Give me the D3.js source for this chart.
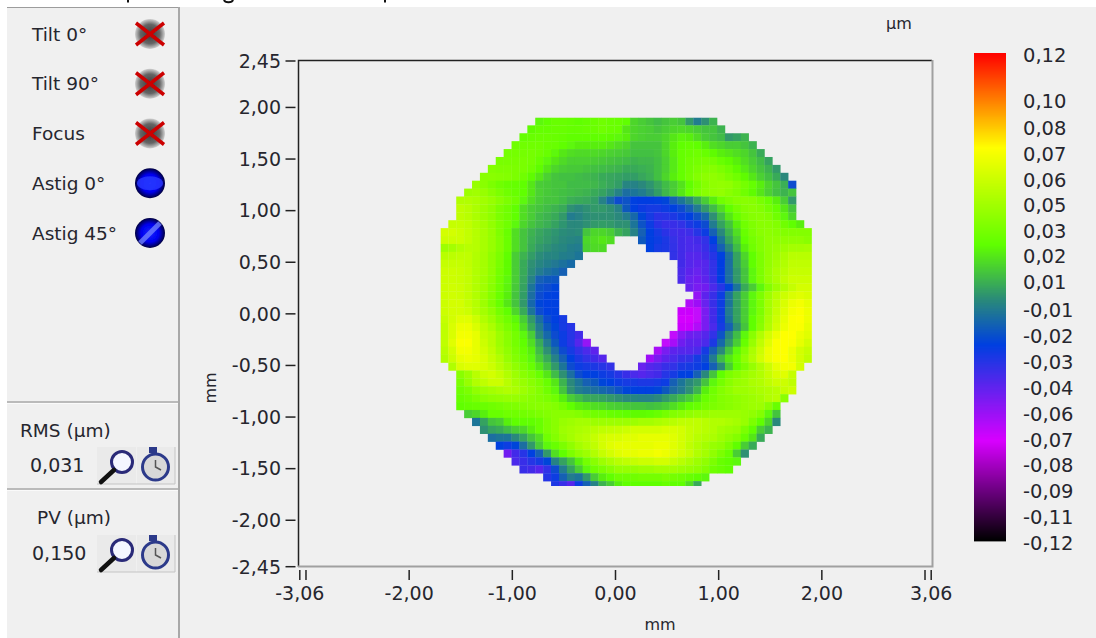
<!DOCTYPE html>
<html>
<head>
<meta charset="utf-8">
<script src="https://cdn.jsdelivr.net/npm/d3@7"></script>
<style>
  html, body { margin: 0; padding: 0; background: #fff; }
  text { font-family: "DejaVu Sans", sans-serif; font-size: 19px; fill: #26262e; }
</style>
</head>
<body>
<svg id="chart" width="1096" height="638"></svg>
<script>
const _ = null;

const xTicks = [-3.06, -3, -2, -1, 0, 1, 2, 3, 3.06];
const xTickLabels = ["-3,06", "", "-2,00", "-1,00", "0,00", "1,00", "2,00", "", "3,06"];
const yTicks = [2.45, 2, 1.5, 1, 0.5, 0, -0.5, -1, -1.5, -2, -2.45];
const yTickLabels = ["2,45", "2,00", "1,50", "1,00", "0,50", "0,00", "-0,50", "-1,00", "-1,50", "-2,00", "-2,45"];

// colour bar ticks sit at even steps, labels are rounded
const colorTickValues = [0.12, 0.0969, 0.0841, 0.0713, 0.0585, 0.0462, 0.0334, 0.0211, 0.0079, -0.0054, -0.0182, -0.031, -0.0438, -0.0566, -0.0694, -0.0817, -0.0945, -0.1073, -0.12];
const colorTickLabels = ["0,12", "0,10", "0,08", "0,07", "0,06", "0,05", "0,03", "0,02", "0,01", "-0,01", "-0,02", "-0,03", "-0,04", "-0,06", "-0,07", "-0,08", "-0,09", "-0,11", "-0,12"];
const colorStops = [-0.12, -0.0708, -0.0236, -0.0015, 0.0256, 0.0733, 0.12];
const colorValues = ["#000000", "#d800ff", "#0040e0", "#2a8a7a", "#60ff00", "#ffff00", "#ff0000"];

const termLabels = ["Tilt 0°", "Tilt 90°", "Focus", "Astig 0°", "Astig 45°"];
const termRemoved = [true, true, true, false, false];

const rmsValue = "0,031";
const pvValue = "0,150";

// map size in mm, one cell per sample
const gridStep = 0.0766;
const gridLeft = -1.697;
const gridTop = 1.903;
const gridBottom = -1.668;

// first column of each row
const rowStart = [12,11,10,9,8,7,6,5,4,3,2,2,2,1,0,0,0,0,0,0,0,0,0,0,0,0,0,0,0,0,0,1,2,2,2,2,2,3,4,5,6,7,8,9,10,13,14];

// height in nm
const zRows = [
[24,26,28,28,27,26,27,29,30,29,28,26,16,14,12,10,12,14,12,2,-6,0,8],
[25,27,27,28,28,27,27,28,29,30,29,28,20,16,15,14,12,14,16,17,16,14,12,12,8],
[27,28,29,29,28,27,26,26,26,26,26,25,24,22,16,15,14,14,16,20,23,22,18,14,12,10,2,4,8],
[30,30,30,30,29,28,26,24,22,22,22,22,20,18,16,12,12,12,12,16,22,26,27,26,22,18,16,14,14,12,8],
[32,32,32,32,30,28,24,20,18,17,17,17,16,15,14,13,11,11,11,12,16,22,27,29,30,28,25,22,20,18,16,12,6],
[33,33,33,33,32,28,24,20,17,15,15,15,14,13,12,11,10,8,9,9,11,15,21,27,30,32,33,32,28,25,22,18,14,10,4],
[36,35,35,34,33,30,25,20,16,14,13,13,12,11,10,9,8,6,6,7,8,11,15,21,27,31,34,36,37,34,30,25,21,16,12,8,2],
[38,38,37,36,34,30,25,20,15,12,11,11,10,9,8,6,5,4,3,3,5,7,11,16,22,27,32,36,39,40,38,34,30,25,20,15,11,6,-2],
[42,38,34,30,28,27,26,20,14,13,12,12,10,10,10,9,7,5,3,-3,-4,-2,1,5,10,14,19,26,32,37,40,41,40,36,32,27,22,16,12,7,-20],
[44,45,42,38,34,30,28,26,20,15,13,12,11,10,9,8,6,4,1,-4,-10,-8,-6,-2,3,9,14,20,28,34,38,40,41,38,35,30,25,20,15,11,8,12],
[50,50,48,45,42,38,34,30,24,18,14,12,12,10,7,6,5,3,-4,-12,-20,-18,-24,-25,-25,-24,-22,-14,-8,-2,6,14,22,30,34,37,38,37,33,29,22,14,2],
[54,52,48,44,40,34,30,26,18,14,12,10,8,6,0,-2,0,2,2,0,-4,-16,-24,-27,-28,-28,-26,-24,-20,-14,-6,2,10,18,26,32,36,38,36,32,27,20,12],
[54,52,48,44,40,34,30,26,18,14,10,8,6,2,-6,-4,-1,0,0,0,-2,-6,-12,-22,-28,-33,-32,-30,-26,-24,-18,-12,0,10,20,28,34,37,38,36,30,24,16],
[56,56,54,50,46,41,35,30,24,16,12,9,7,4,1,-2,-2,0,2,3,2,0,0,-8,-18,-26,-33,-36,-36,-34,-30,-26,-20,-6,4,12,22,30,35,38,38,36,30,26,22],
[60,60,58,55,51,47,42,35,28,18,12,8,5,3,1,-1,-2,-1,12,16,16,14,8,4,-4,-14,-24,-28,-33,-37,-38,-37,-32,-26,-14,-2,8,18,28,34,38,39,38,36,36,36,36],
[58,58,58,55,51,47,42,36,29,18,12,7,4,2,0,-2,-3,-4,16,18,20,18,_,_,_,-16,-24,-26,-30,-35,-38,-40,-38,-34,-24,-8,4,14,26,32,36,40,40,40,40,40,38],
[44,46,50,52,51,47,42,36,29,18,12,6,2,0,-2,-3,-5,-6,15,17,17,_,_,_,_,_,-24,-28,-30,-34,-38,-40,-40,-36,-28,-14,-2,10,22,30,36,40,42,44,46,46,47],
[52,53,54,54,50,46,40,34,26,14,8,3,-1,-3,-3,-5,-6,-8,_,_,_,_,_,_,_,_,_,_,_,-34,-38,-42,-42,-38,-32,-24,-10,4,16,26,34,40,44,48,52,52,52],
[56,56,56,54,50,46,40,33,25,14,6,0,-3,-5,-7,-9,-11,_,_,_,_,_,_,_,_,_,_,_,_,_,-38,-42,-44,-42,-34,-25,-10,4,14,26,34,41,46,50,54,54,54],
[58,58,57,55,50,46,40,32,25,14,6,-1,-6,-9,-11,-14,_,_,_,_,_,_,_,_,_,_,_,_,_,_,-40,-44,-46,-42,-34,-25,-10,2,12,24,34,42,48,52,56,56,56],
[58,58,57,55,50,45,39,31,24,14,5,-4,-14,-16,-17,_,_,_,_,_,_,_,_,_,_,_,_,_,_,_,-40,-46,-48,-44,-36,-25,-10,2,12,24,34,42,48,54,58,58,58],
[58,59,58,55,50,45,38,30,23,13,4,-8,-18,-20,-22,_,_,_,_,_,_,_,_,_,_,_,_,_,_,_,_,-46,-50,-48,-40,-32,-22,-8,6,14,24,36,44,50,56,60,60],
[58,59,58,55,50,44,37,29,22,12,3,-10,-20,-23,-24,_,_,_,_,_,_,_,_,_,_,_,_,_,_,_,_,_,-56,-44,-36,-26,-8,4,14,24,34,44,52,58,62,64,62],
[58,60,60,56,51,44,36,28,20,12,2,-12,-22,-24,-24,_,_,_,_,_,_,_,_,_,_,_,_,_,_,_,_,-62,-58,-46,-36,-26,-8,4,14,24,34,46,54,62,68,70,66],
[58,60,60,58,52,46,40,32,26,16,6,-8,-20,-24,-24,_,_,_,_,_,_,_,_,_,_,_,_,_,_,_,-68,-68,-66,-50,-38,-26,-6,4,14,24,34,46,56,64,70,72,68],
[56,60,64,64,58,50,44,36,30,24,14,2,-10,-20,-24,-28,_,_,_,_,_,_,_,_,_,_,_,_,_,_,-70,-70,-66,-50,-38,-26,-8,4,14,26,36,48,58,66,72,73,68],
[54,62,68,68,62,54,48,40,34,28,18,6,-6,-16,-22,-28,-32,_,_,_,_,_,_,_,_,_,_,_,_,_,-68,-68,-62,-50,-40,-28,-14,0,12,26,38,50,60,68,72,72,66],
[54,62,70,70,66,56,52,44,38,32,24,14,-2,-12,-20,-26,-32,-38,_,_,_,_,_,_,_,_,_,_,_,-66,-54,-48,-46,-42,-34,-18,-2,10,24,38,50,60,68,73,73,68,64],
[54,64,72,72,66,58,52,44,38,32,26,18,6,-6,-16,-26,-32,-42,-56,_,_,_,_,_,_,_,_,_,-66,-60,-48,-44,-44,-40,-30,-12,2,14,28,42,54,64,72,73,72,66,60],
[52,60,70,70,66,60,54,46,40,34,28,22,10,0,-10,-20,-28,-34,-40,-44,_,_,_,_,_,_,_,-60,-50,-44,-42,-42,-40,-28,-14,-2,12,24,36,48,58,68,72,73,68,60,56],
[50,58,66,68,66,62,56,50,42,36,30,24,14,6,-4,-14,-24,-30,-34,-38,-42,_,_,_,_,_,-58,-50,-44,-40,-36,-34,-28,-20,-6,10,20,28,40,50,60,68,72,73,68,60,54],
[50,62,64,64,62,58,52,46,40,34,28,20,12,2,-8,-20,-26,-28,-30,-32,-34,_,_,_,-46,-42,-40,-36,-34,-30,-28,-26,-24,-14,-2,14,26,34,42,50,58,66,70,70,60],
[38,44,52,58,60,56,50,44,38,34,28,20,10,0,-10,-20,-24,-24,-26,-28,-32,-36,-40,-42,-40,-38,-32,-28,-24,-24,-14,-2,12,26,34,38,42,46,50,56,62,64,56],
[34,42,50,54,58,58,52,46,42,38,34,28,20,8,-2,-8,-14,-16,-22,-24,-26,-28,-28,-30,-30,-28,-26,-14,-8,-2,2,12,24,32,38,42,44,48,50,54,58,58,54],
[30,34,40,44,46,48,50,48,44,40,36,30,24,12,0,-6,-8,-10,-12,-14,-18,-22,-24,-24,-24,-22,-16,-10,-6,0,8,22,30,36,40,44,44,46,48,50,52,56,58],
[28,30,34,38,40,41,42,42,40,38,36,34,30,22,14,10,6,5,4,2,0,-2,-3,-4,-4,-2,2,6,10,14,20,28,32,36,38,40,42,44,46,50,52,38],
[26,27,28,29,30,32,34,35,36,37,38,38,36,32,26,22,20,18,17,15,14,13,12,12,11,12,14,18,22,26,28,32,34,36,38,40,42,44,44,38,28],
[14,16,22,28,28,30,30,31,32,34,36,38,38,38,36,33,31,30,28,27,26,25,25,26,28,32,36,38,40,42,42,44,44,44,44,42,40,36,24,12],
[-8,4,12,14,22,26,26,26,28,34,38,42,44,46,46,44,44,44,44,44,44,46,46,48,50,52,54,54,54,52,50,50,48,46,42,34,26,16,-2],
[0,4,6,10,14,16,22,28,34,38,44,46,48,50,52,54,55,56,58,60,60,60,60,62,62,60,56,54,52,50,46,44,42,34,26,14,8],
[-10,-8,-8,-2,4,12,18,30,36,42,46,50,52,56,60,62,62,64,64,66,66,66,66,64,60,56,52,50,48,44,40,36,28,20,6],
[-24,-26,-22,-10,2,14,24,28,34,40,46,50,54,60,64,66,66,66,66,66,68,68,64,60,54,50,46,42,40,34,26,14,6],
[-48,-38,-32,-24,-14,2,18,26,34,40,44,50,56,60,64,66,66,68,68,70,68,64,60,56,50,46,40,34,28,14,0],
[-40,-36,-32,-28,-22,-4,4,12,22,32,38,44,48,52,54,56,58,58,60,60,56,52,48,44,40,34,28,26,24],
[-36,-38,-42,-34,-20,-6,4,14,24,30,34,38,42,42,42,44,44,46,46,46,44,42,40,36,30,28,26],
[-32,-26,-14,-6,-8,2,14,22,26,30,30,30,32,32,32,34,32,30,28,26,24],
[-30,-36,-42,-26,-14,-4,8,14,22,26,26,26,26,26,28,26,26,18,6]
];

const svg = d3.select("#chart");
const bg = svg.append("g");

// page and panel
bg.append("rect").attr("width", 1096).attr("height", 638).attr("fill", "#fff");
bg.append("rect").attr("x", 7).attr("y", 7).attr("width", 1089).attr("height", 631).attr("fill", "#f0f0f0");
bg.append("line").attr("x1", 7).attr("x2", 179).attr("y1", 7.5).attr("y2", 7.5).attr("stroke", "#9c9c9c");
bg.append("line").attr("x1", 179).attr("x2", 179).attr("y1", 7).attr("y2", 638).attr("stroke", "#a8a8a8").attr("stroke-width", 2);
[402, 489].forEach(y => {
	bg.append("line").attr("x1", 7).attr("x2", 178).attr("y1", y).attr("y2", y).attr("stroke", "#a8a8a8").attr("stroke-width", 1.5);
	bg.append("line").attr("x1", 7).attr("x2", 178).attr("y1", y + 1.5).attr("y2", y + 1.5).attr("stroke", "#fafafa");
});

// cut off title at the very top of the capture
bg.append("path").attr("d", "M128,0V2.5 M224,0C225,3 232,3 233,0 M385,0V2.5").attr("fill", "none").attr("stroke", "#111").attr("stroke-width", 2);

const x = d3.scaleLinear().domain([-3.06, 3.06]).range([299.8, 931.2]);
const y = d3.scaleLinear().domain([2.45, -2.45]).range([61, 566.7]);

const color = d3.scaleLinear().domain(colorStops).range(colorValues).clamp(true);
const colorY = d3.scaleLinear().domain([-0.12, 0.12]).range([541, 53]);

const defs = svg.append("defs");
defs.append("clipPath").attr("id", "mapClip").append("rect")
	.attr("x", x(gridLeft)).attr("y", y(gridTop))
	.attr("width", gridStep * 47 * (x(1) - x(0)))
	.attr("height", y(gridBottom) - y(gridTop));
defs.append("filter").attr("id", "mapBlur").append("feGaussianBlur").attr("stdDeviation", 0.45);
defs.append("filter").attr("id", "iconBlur").append("feGaussianBlur").attr("stdDeviation", 0.7);

// plot box
svg.append("path").attr("d", "M298.5,567V60.5H932").attr("fill", "none").attr("stroke", "#222").attr("stroke-width", 1.5);
svg.append("path").attr("d", "M932.5,60V566.5H298").attr("fill", "none").attr("stroke", "#a0a0a0").attr("stroke-width", 2);

// map cells
const cells = [];
zRows.forEach((row, r) => row.forEach((v, i) => {
	if (v !== null) cells.push({row: r, col: rowStart[r] + i, value: v});
}));
svg.append("g").attr("clip-path", "url(#mapClip)").append("g").attr("filter", "url(#mapBlur)")
	.selectAll("rect").data(cells).enter().append("rect")
	.attr("x", d => x(gridLeft + d.col * gridStep))
	.attr("y", d => y(gridTop - d.row * gridStep))
	.attr("width", gridStep * (x(1) - x(0)) + 0.3)
	.attr("height", gridStep * (y(0) - y(1)) + 0.3)
	.attr("fill", d => color(d.value / 1000));

// axes
const xAxis = svg.append("g").attr("transform", "translate(0,570)");
xAxis.selectAll("line").data(xTicks).enter().append("line")
	.attr("x1", d => x(d)).attr("x2", d => x(d)).attr("y1", 0).attr("y2", 10)
	.attr("stroke", "#222").attr("stroke-width", 1.5);
xAxis.selectAll("text").data(xTicks).enter().append("text")
	.attr("x", d => x(d)).attr("y", 30).attr("text-anchor", "middle")
	.text((d, i) => xTickLabels[i]);

const yAxis = svg.append("g");
yAxis.selectAll("line").data(yTicks).enter().append("line")
	.attr("x1", 285.5).attr("x2", 295.5).attr("y1", d => y(d)).attr("y2", d => y(d))
	.attr("stroke", "#222").attr("stroke-width", 1.5);
yAxis.selectAll("text").data(yTicks).enter().append("text")
	.attr("x", 281).attr("y", d => y(d)).attr("dy", "0.36em").attr("text-anchor", "end")
	.text((d, i) => yTickLabels[i]);

svg.append("text").attr("x", 660).attr("y", 630).attr("text-anchor", "middle").style("font-size", "16px").text("mm");
svg.append("text").attr("transform", "translate(216,388) rotate(-90)").attr("text-anchor", "middle").style("font-size", "16px").text("mm");
svg.append("text").attr("x", 899).attr("y", 29).attr("text-anchor", "middle").style("font-size", "16px").text("µm");

// colour bar
const barSteps = d3.range(541, 53, -1).map(p => colorY.invert(p));
svg.append("g").selectAll("rect").data(barSteps).enter().append("rect")
	.attr("x", 974).attr("width", 32)
	.attr("y", d => colorY(d) - 1).attr("height", 1.4)
	.attr("fill", d => color(d));
svg.append("g").selectAll("text").data(colorTickValues).enter().append("text")
	.attr("x", 1023)
	.attr("y", d => colorY(d) + 1.5).attr("dy", "0.36em")
	.style("font-size", "19.5px")
	.text((d, i) => colorTickLabels[i]);

// zernike term switches on the left
const ballGrad = defs.append("radialGradient").attr("id", "ballOn");
ballGrad.append("stop").attr("offset", "0%").attr("stop-color", "#1020ff");
ballGrad.append("stop").attr("offset", "60%").attr("stop-color", "#0000ee");
ballGrad.append("stop").attr("offset", "100%").attr("stop-color", "#000040");
const ballOff = defs.append("radialGradient").attr("id", "ballOff");
ballOff.append("stop").attr("offset", "0%").attr("stop-color", "#3a3a3a");
ballOff.append("stop").attr("offset", "65%").attr("stop-color", "#666");
ballOff.append("stop").attr("offset", "100%").attr("stop-color", "#d0d0d0");
const termY = d3.scalePoint().domain(termLabels).range([34, 233]);

termLabels.forEach((label, i) => {
	const cy = termY(label);
	svg.append("text").attr("x", 32).attr("y", cy).attr("dy", "0.36em").style("font-size", "18.5px").text(label);
	const icon = svg.append("g").attr("filter", "url(#iconBlur)");
	icon.append("circle").attr("cx", 150).attr("cy", cy).attr("r", 15).attr("fill", termRemoved[i] ? "url(#ballOff)" : "url(#ballOn)");
	if (termRemoved[i]) {
		icon.append("path").attr("d", "M" + 136 + "," + (cy - 11) + "L" + 164 + "," + (cy + 11) + "M" + 136 + "," + (cy + 11) + "L" + 164 + "," + (cy - 11))
			.attr("stroke", "#cc0000").attr("stroke-width", 3.5).attr("fill", "none");
	} else if (i == 3) {
		icon.append("ellipse").attr("cx", 150).attr("cy", cy).attr("rx", 13).attr("ry", 7).attr("fill", "#2a3aff").attr("opacity", 0.8);
	} else {
		icon.append("path").attr("d", "M" + 140 + "," + (cy + 10) + "L" + 160 + "," + (cy - 10)).attr("stroke", "#7080ff").attr("stroke-width", 5).attr("opacity", 0.8);
	}
});

// rms / pv read-outs with their zoom and timer buttons
function readout(title, titleX, titleY, value, valueX, btnY) {
	svg.append("text").attr("x", titleX).attr("y", titleY).attr("dy", "0.36em").style("font-size", "18.5px").text(title);
	svg.append("text").attr("x", valueX).attr("y", btnY + 18).attr("dy", "0.36em").style("font-size", "19px").text(value);
	svg.append("rect").attr("x", 97).attr("y", btnY).attr("width", 39).attr("height", 37).attr("fill", "#eaeaea");
	svg.append("rect").attr("x", 137).attr("y", btnY).attr("width", 38).attr("height", 37).attr("fill", "#eaeaea");
	svg.append("path").attr("d", "M97," + (btnY + 37) + "H175V" + btnY).attr("fill", "none").attr("stroke", "#c4c4c4");
	// magnifier
	svg.append("circle").attr("cx", 122).attr("cy", btnY + 15).attr("r", 10.5).attr("fill", "#f4f6ff").attr("stroke", "#2a2a78").attr("stroke-width", 3);
	svg.append("line").attr("x1", 114).attr("y1", btnY + 23).attr("x2", 101).attr("y2", btnY + 35).attr("stroke", "#111").attr("stroke-width", 4.5).attr("stroke-linecap", "round");
	// stopwatch
	svg.append("circle").attr("cx", 155.5).attr("cy", btnY + 20).attr("r", 13).attr("fill", "#d8d8d8").attr("stroke", "#2c3a8a").attr("stroke-width", 3);
	svg.append("rect").attr("x", 149).attr("y", btnY).attr("width", 8).attr("height", 6).attr("fill", "#2c3a8a");
	svg.append("path").attr("d", "M155.5," + (btnY + 13) + "V" + (btnY + 20) + "L161," + (btnY + 23)).attr("fill", "none").attr("stroke", "#555").attr("stroke-width", 1.5);
}
readout("RMS (µm)", 20, 430, rmsValue, 30, 447);
readout("PV (µm)", 37, 517, pvValue, 32, 535);
</script>
</body>
</html>
